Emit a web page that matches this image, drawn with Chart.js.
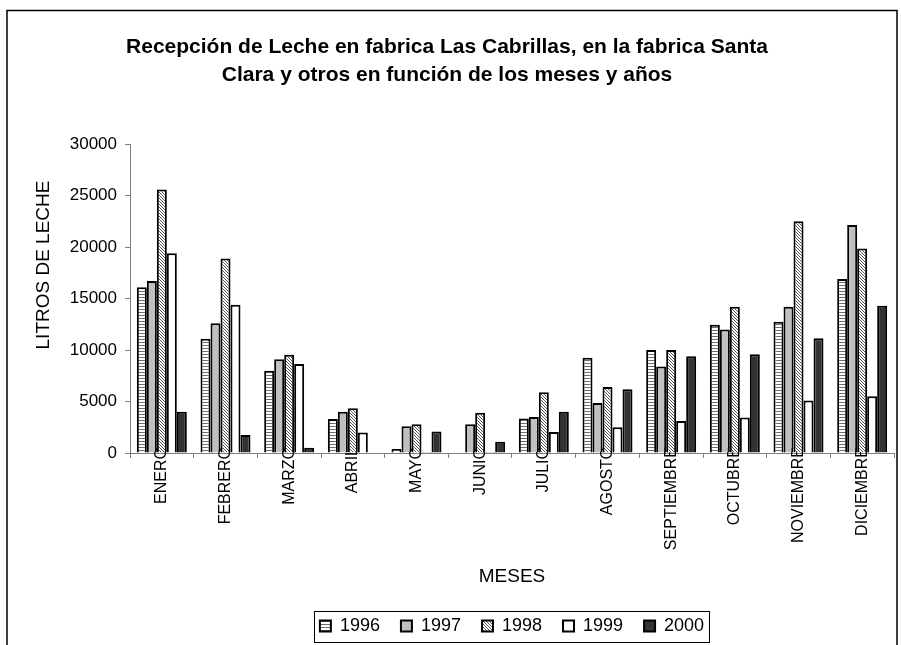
<!DOCTYPE html>
<html>
<head>
<meta charset="utf-8">
<title>Recepción de Leche</title>
<script src="https://cdn.jsdelivr.net/npm/chart.js@4.4.1/dist/chart.umd.min.js"></script>
<style>
  body { margin: 0; background: #fff; }
  canvas { display: block; }
</style>
</head>
<body>
<canvas id="myChart" width="901" height="645"></canvas>
<script>
// datos
const meses = ['ENERO', 'FEBRERO', 'MARZO', 'ABRIL', 'MAYO', 'JUNIO', 'JULIO',
  'AGOSTO', 'SEPTIEMBRE', 'OCTUBRE', 'NOVIEMBRE', 'DICIEMBRE'];
const anios = ['1996', '1997', '1998', '1999', '2000'];
const v1996 = [16100, 11100, 8000, 3300, 400, 0, 3350, 9250, 10000, 12450, 12750, 16900];
const v1997 = [16700, 12600, 9100, 4000, 2600, 2800, 3500, 4850, 8400, 12000, 14200, 22150];
const v1998 = [25600, 18900, 9550, 4350, 2800, 3900, 5900, 6400, 10000, 14200, 22500, 19850];
const v1999 = [19400, 14400, 8650, 2000, 100, 100, 2050, 2500, 3100, 3450, 5100, 5500];
const v2000 = [4000, 1750, 500, 0, 2100, 1100, 4000, 6200, 9400, 9600, 11150, 14300];
const yTicks = [0, 5000, 10000, 15000, 20000, 25000, 30000];

const fuente = 'Arial, "Liberation Sans", sans-serif';
Chart.defaults.font.family = fuente;
Chart.defaults.color = '#000';

function patron(tipo) {
  const c = document.createElement('canvas');
  const g = c.getContext('2d');
  if (tipo === 'horizontal') {
    c.width = 4; c.height = 3;
    g.fillStyle = '#fff'; g.fillRect(0, 0, 4, 3);
    g.fillStyle = '#6e6e6e'; g.fillRect(0, 0, 4, 1);
  } else {
    c.width = 3; c.height = 3;
    g.fillStyle = '#fff'; g.fillRect(0, 0, 3, 3);
    g.fillStyle = '#555';
    for (let i = 0; i < 3; i++) g.fillRect(i, i, 1, 1);
  }
  return g.createPattern(c, 'repeat');
}

const series = [v1996, v1997, v1998, v1999, v2000];
const rellenos = [patron('horizontal'), '#c0c0c0', patron('diagonal'), '#ffffff', '#333333'];

// marco exterior del grafico
const marco = {
  id: 'marco',
  beforeDraw(chart) {
    const ctx = chart.ctx;
    ctx.save();
    ctx.fillStyle = '#fff';
    ctx.fillRect(0, 0, chart.width, chart.height);
    ctx.strokeStyle = '#000';
    ctx.lineWidth = 1.5;
    ctx.strokeRect(7, 10.5, 890, 700);
    ctx.restore();
  },
  // la leyenda va centrada bajo el area de trazado, no bajo el lienzo
  afterLayout(chart) {
    const lg = chart.legend;
    const ca = chart.chartArea;
    const dx = (ca.left + ca.right) / 2 - (lg.left + lg.right) / 2;
    lg.left += dx;
    lg.right += dx;
  }
};

// etiquetas de meses, por debajo de las barras como en Excel
const etiquetasMeses = {
  id: 'etiquetasMeses',
  beforeDatasetsDraw(chart) {
    const { ctx, scales: { x } } = chart;
    ctx.save();
    ctx.font = '16px ' + fuente;
    ctx.fillStyle = '#000';
    ctx.textAlign = 'right';
    ctx.textBaseline = 'middle';
    meses.forEach((m, i) => {
      ctx.save();
      ctx.translate(x.getPixelForValue(i), x.top - 6);
      ctx.rotate(-Math.PI / 2);
      ctx.fillText(m, 0, 0);
      ctx.restore();
    });
    ctx.restore();
  }
};

const extras = {
  id: 'extras',
  afterDraw(chart) {
    const ctx = chart.ctx;
    ctx.save();
    // titulo eje Y
    ctx.font = '19px ' + fuente;
    ctx.fillStyle = '#000';
    ctx.textAlign = 'center';
    ctx.textBaseline = 'middle';
    ctx.translate(44, 265);
    ctx.rotate(-Math.PI / 2);
    ctx.fillText('LITROS DE LECHE', 0, 0);
    ctx.restore();

    // recuadro de la leyenda
    const hb = chart.legend.legendHitBoxes;
    if (hb && hb.length) {
      const izq = hb[0].left - 6;
      const der = hb[hb.length - 1].left + hb[hb.length - 1].width + 5;
      const cy = hb[0].top + hb[0].height / 2;
      ctx.save();
      ctx.strokeStyle = '#000';
      ctx.lineWidth = 1;
      ctx.strokeRect(Math.round(izq) + 0.5, Math.round(cy - 15) + 0.5, Math.round(der - izq), 31);
      ctx.restore();
    }
  }
};

new Chart(document.getElementById('myChart'), {
  type: 'bar',
  data: {
    labels: meses,
    datasets: anios.map((a, i) => ({
      label: a,
      data: series[i],
      backgroundColor: rellenos[i],
      borderColor: '#000',
      borderWidth: 2,
      categoryPercentage: 0.785,
      barPercentage: 1.0
    }))
  },
  options: {
    responsive: false,
    animation: false,
    layout: { padding: { left: 0, right: 7, top: 0, bottom: 0 } },
    plugins: {
      title: {
        display: true,
        text: ['Recepción de Leche en fabrica Las Cabrillas, en la fabrica Santa',
               'Clara y otros en función de los meses y años'],
        font: { size: 21, weight: 'bold', lineHeight: 1.3 },
        color: '#000',
        padding: { top: 34, bottom: 55.5 }
      },
      legend: {
        position: 'bottom',
        labels: {
          boxWidth: 11,
          boxHeight: 11,
          padding: 21,
          color: '#000',
          font: { size: 18 }
        }
      },
      tooltip: { enabled: false }
    },
    scales: {
      x: {
        grid: { display: true, drawOnChartArea: false, drawTicks: true, tickLength: 5, color: '#808080', offset: true },
        border: { color: '#808080', width: 1 },
        ticks: { display: false },
        title: { display: true, text: 'MESES', color: '#000', font: { size: 19 }, padding: { top: 0, bottom: 8 } },
        afterFit(s) { s.height = 143; }
      },
      y: {
        min: 0,
        max: 30000,
        afterBuildTicks(s) { s.ticks = yTicks.map(v => ({ value: v })); },
        ticks: { color: '#000', font: { size: 17 }, padding: 8, callback: v => String(v) },
        grid: { drawOnChartArea: false, tickLength: 5, color: '#808080' },
        border: { color: '#808080', width: 1 },
        afterFit(s) { s.width = 130; }
      }
    }
  },
  plugins: [marco, etiquetasMeses, extras]
});
</script>
</body>
</html>
